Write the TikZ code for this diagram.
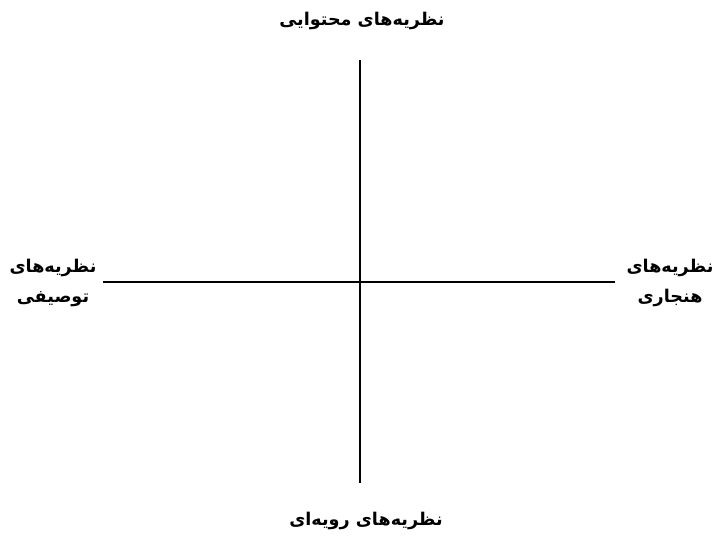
\documentclass[tikz,border=0pt]{standalone}
\usepackage{fontspec}
\usetikzlibrary{positioning}
\TeXXeTstate=1
\newfontfamily\arabicfont[Script=Arabic]{DejaVu Sans}

\begin{document}
\begin{tikzpicture}[
    x=0.025cm, y=-0.025cm,
    axis/.style={line width=1.5pt},
    theory/.style={font=\arabicfont\bfseries\fontsize{12.5}{21}\selectfont, align=center, inner sep=0pt}
]
\useasboundingbox (0,0) rectangle (717,538);
\coordinate (top) at (360,60);
\coordinate (bottom) at (360,483);
\coordinate (left) at (103,282);
\coordinate (right) at (615,282);

\draw[axis] (top) -- (bottom);
\draw[axis] (left) -- (right);

\node[theory] (content) at (362,21) {\beginR نظریه‌های محتوایی\endR};
\node[theory] (procedural) at (366,521) {\beginR نظریه‌های رویه‌ای\endR};
\node[theory] (descriptive) at (53,283) {\beginR نظریه‌های\endR\\\beginR توصیفی\endR};
\node[theory] (normative) at (670,283) {\beginR نظریه‌های\endR\\\beginR هنجاری\endR};
\end{tikzpicture}
\end{document}
